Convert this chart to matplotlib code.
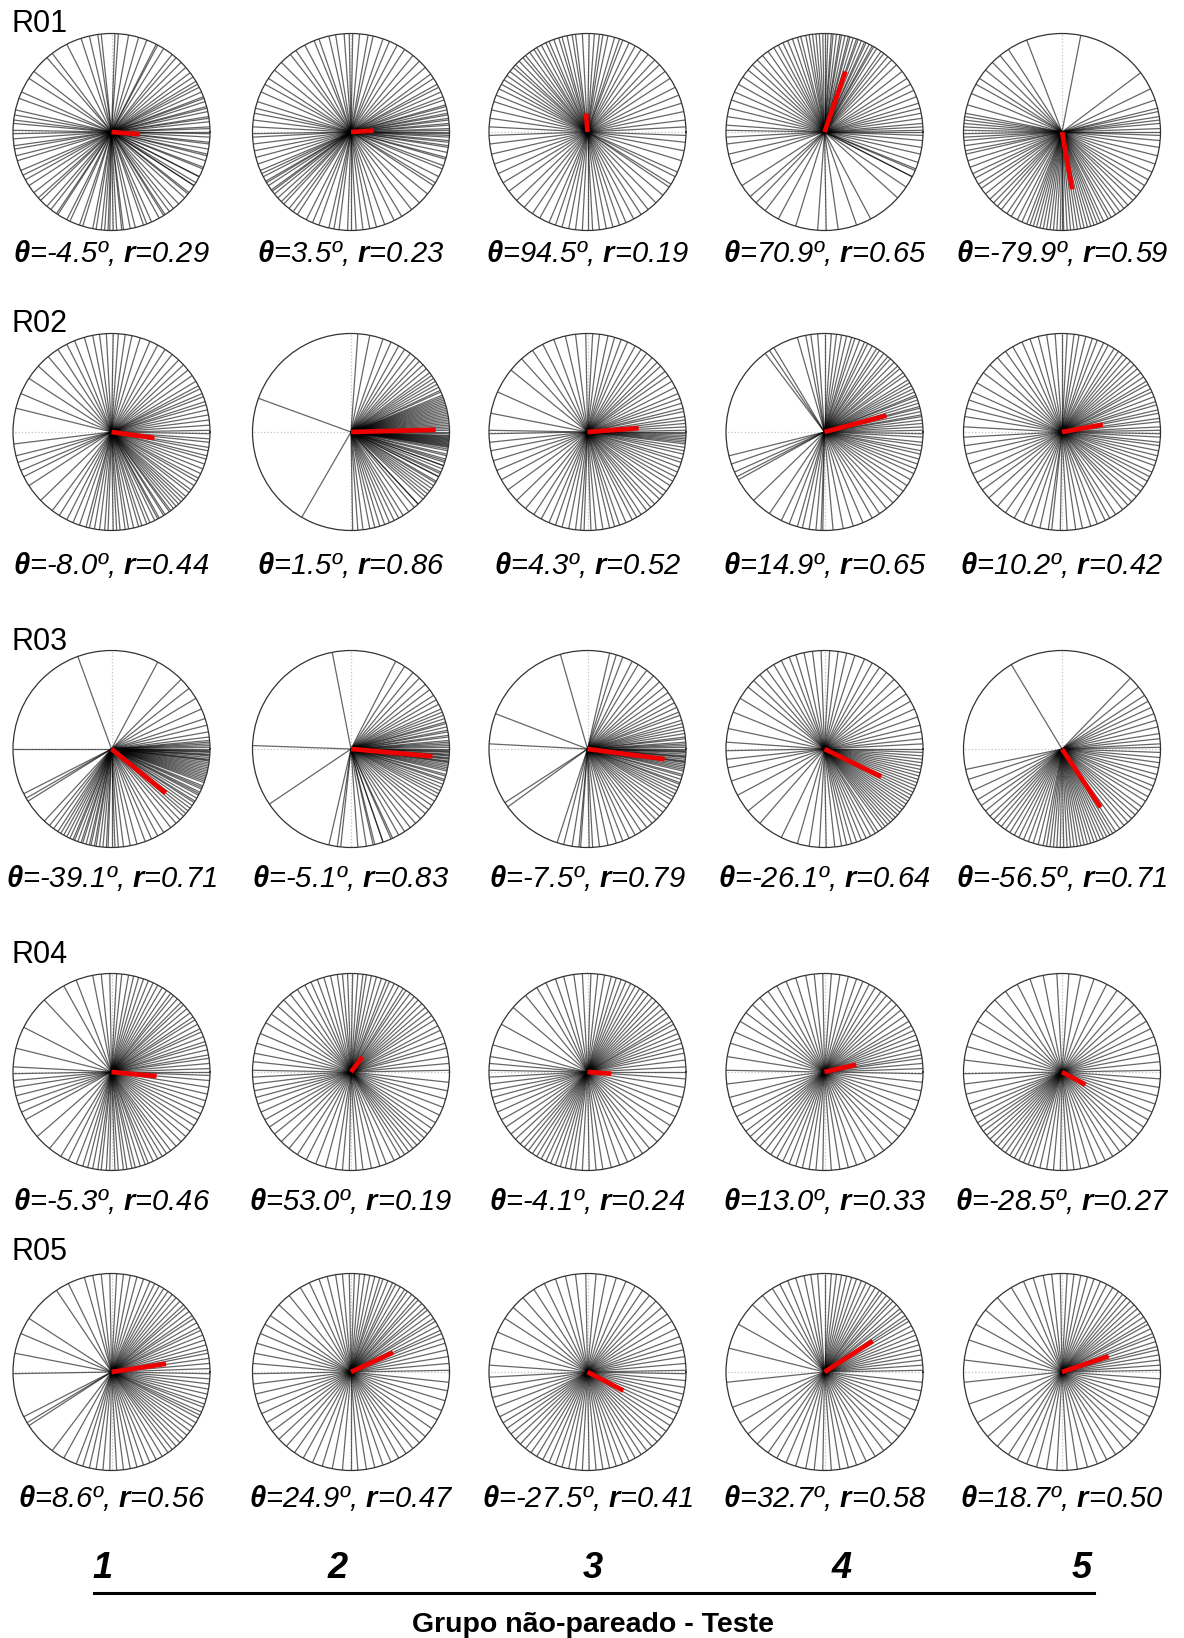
import numpy as np
import matplotlib
matplotlib.use("Agg")
import matplotlib.pyplot as plt
from matplotlib.lines import Line2D

plt.rcParams['font.family'] = ['Liberation Sans', 'DejaVu Sans']
plt.rcParams['mathtext.fontset'] = 'custom'
plt.rcParams['mathtext.bf'] = 'Liberation Sans:italic:bold'
plt.rcParams['mathtext.it'] = 'Liberation Sans:italic'
plt.rcParams['mathtext.rm'] = 'Liberation Sans:italic'

# ---------------- data ----------------
row_labels = ['R01', 'R02', 'R03', 'R04', 'R05']
col_labels = ['1', '2', '3', '4', '5']
xlabel = 'Grupo não-pareado - Teste'

mean_theta = [[-4.5, 3.5, 94.5, 70.9, -79.9],
              [-8.0, 1.5, 4.3, 14.9, 10.2],
              [-39.1, -5.1, -7.5, -26.1, -56.5],
              [-5.3, 53.0, -4.1, 13.0, -28.5],
              [8.6, 24.9, -27.5, 32.7, 18.7]]
mean_r = [[0.29, 0.23, 0.19, 0.65, 0.59],
          [0.44, 0.86, 0.52, 0.65, 0.42],
          [0.71, 0.83, 0.79, 0.64, 0.71],
          [0.46, 0.19, 0.24, 0.33, 0.27],
          [0.56, 0.47, 0.41, 0.58, 0.50]]

# individual directions (degrees, counter-clockwise from east)
R01_1 = [-38, -33, -31, -27, -22, -21, -17, -14, -13, -10, -7, -6, -3, -1, 0, 2, 3, 6, 8, 9, 12, 14, 15, 18,
         20, 21, 24, 27, 29, 31, 34, 37, 41, 45, 49, 52, 58, 62, 63, 69, 74, 80, 86, 88, 96, 98, 103, 108,
         117, 127, 131, 142, 147, 156, 160, 167, 170, 173, 175, 179, 181, 184, 188, 190, 194, 197, 203, 206,
         209, 213, 218, 222, 224, 229, 232, 236, 237, 243, 245, 251, 253, 259, 261, 264, 266, 268, 269, 271,
         273, 276, 277, 281, 284, 289, 291, 294, 299, 302, 303, 306, 309, 313, 318, 321, 327, 333]
R01_2 = [-31, -27, -22, -20, -16, -15, -12, -9, -8, -6, -5, -3, -2, -1, 0, 1, 2, 4, 5, 7, 8, 10, 11, 13, 15,
         16, 19, 21, 24, 27, 29, 33, 36, 41, 46, 51, 57, 62, 67, 71, 77, 80, 85, 89, 91, 94, 99, 103, 109,
         112, 118, 124, 128, 135, 141, 147, 151, 156, 162, 166, 169, 173, 177, 181, 183, 187, 191, 195, 199,
         203, 205, 207, 210, 211, 213, 216, 217, 219, 222, 225, 227, 231, 234, 237, 243, 247, 251, 257, 260,
         263, 268, 270, 273, 277, 281, 285, 290, 296, 301, 308, 314, 321, 327]
R01_3 = [-32, -24, -17, -11, -6, -2, 3, 7, 12, 17, 22, 27, 33, 38, 43, 47, 52, 57, 61, 65, 69, 71, 74, 78, 81,
         83, 86, 89, 93, 97, 99, 102, 105, 107, 110, 113, 115, 118, 121, 123, 126, 129, 131, 134, 137, 139,
         142, 145, 148, 151, 154, 158, 162, 167, 172, 177, 182, 187, 193, 199, 205, 211, 217, 224, 230, 236,
         241, 247, 251, 255, 259, 263, 267, 270, 273, 277, 281, 285, 289, 293, 298, 303, 308, 314, 320, 326,
         333]
R01_4 = [38, 43, 47, 50, 53, 55, 58, 60, 61, 63, 65, 66, 68, 70, 71, 73, 75, 76, 78, 80, 81, 83, 85, 86, 88,
         90, 91, 93, 95, 97, 99, 101, 104, 106, 109, 112, 115, 118, 121, 125, 129, 133, 137, 141, 146, 151,
         156, 161, -27, -22, -18, -13, -9, -5, -2, 0, 1, 3, 5, 8, 11, 14, 17, 21, 25, 29, 33,
         166, 171, 176, 179, 183, 187, 193, 199, 213, 221, 226, 233, 242, 253, 266, 271, 278, 289, 298, 318,
         326, 333, 337]
R01_5 = [0, 2, 5, 7, 9, 12, 14, 19, 26, 37, 79, 111, 123, 129, 135, 141, 147, 151, 157, 164, 169, 171, 173,
         175, 177, 179, 181, 183, 185, 188, 191, 193, 197, 201, 205, 208, 212, 215, 219, 223, 226, 229, 232,
         236, 239, 243, 246, 249, 251, 253, 255, 257, 259, 261, 263, 265, 267, 269, 270, 271, 273, 275, 277,
         279, 281, 283, 285, 287, 289, 291, 293, 295, 298, 300, 303, 306, 309, 312, 316, 319, 323, 327, 331,
         336, 341, 346, 351, 355, 358]
R02_1 = [-62, -57, -53, -49, -45, -41, -38, -36, -33, -30, -28, -25, -22, -19, -16, -14, -11, -9, -6, -4, -1,
         1, 4, 7, 10, 13, 16, 18, 21, 23, 26, 28, 31, 35, 39, 43, 47, 52, 57, 62, 67, 73, 78, 82, 86, 89, 93,
         97, 101, 106, 112, 117, 123, 130, 138, 147, 157, 166, 187, 194, 198, 203, 207, 213, 224, 233, 238,
         243, 247, 251, 255, 257, 260, 263, 266, 268, 271, 273, 275, 278, 280, 283, 286, 288, 291, 293, 296,
         299, 302, 306, 309, 313, 317]
R02_2 = [-47, -41, -37, -33, -30, -27, -25, -22, -20, -18, -16, -14, -13, -11, -10, -9, -8.5, -8, -7.5, -7,
         -6.5, -6, -5.5, -5, -4.5, -4, -3.5, -3, -2.5, -2, -1, 0, 1, 2, 3, 4, 5, 6, 7, 8, 9, 10, 11, 12, 13,
         14, 15, 16, 17, 18, 19, 20, 21, 22, 24, 25, 27, 29, 31, 33, 35, 37, 40, 43, 46, 49, 53, 57, 61, 66,
         71, 79, 86, 160, 240, 271, 274, 277, 281, 284, 287, 290, 293, 296, 299, 302, 306, 310, 313, 317, 321,
         325, 329, 333, 336, 340, 343]
R02_3 = [-92, -88, -85, -81, -77, -74, -71, -67, -63, -60, -57, -53, -50, -47, -43, -40, -37, -33, -30, -27,
         -24, -21, -18, -16, -13, -11, -9, -7, -6, -5, -4, -3, -2, -1, 0, 1, 3, 5, 7, 9, 12, 14, 17, 20, 23,
         27, 31, 35, 38, 42, 45, 49, 53, 57, 61, 66, 70, 74, 78, 83, 87, 91, 97, 103, 110, 117, 124, 132, 141,
         156, 169, 179, 181, 186, 191, 197, 203, 209, 216, 224, 231, 237, 242, 247, 251, 255, 259, 263, 266]
R02_4 = [-1, 1, 3, 5, 7, 9, 10, 12, 14, 15, 17, 19, 21, 22, 24, 26, 28, 30, 32, 35, 37, 40, 42, 45, 48, 50,
         53, 56, 58, 61, 64, 66, 69, 72, 74, 77, 80, 83, 86, 90, 94, 98, 101, 106, 121, 124, 127,
         -3, -6, -8, -11, -13, -16, -19, -22, -25, -29, -33, -37, -41, -46, -51, -56, -61, -67, -73, -79, -85,
         -91, 194, 199, 204, 207, 209, 224, 236, 244, 249, 254, 257, 261, 265, 268]
R02_5 = [-96, -91, -87, -82, -78, -73, -69, -64, -61, -57, -52, -48, -45, -41, -37, -34, -30, -27, -24, -20,
         -17, -14, -11, -8, -6, -3, -1, 1, 3, 6, 8, 11, 13, 16, 18, 21, 24, 26, 29, 31, 34, 37, 40, 43, 46, 49,
         52, 55, 58, 62, 65, 69, 72, 76, 80, 83, 87, 90, 94, 99, 104, 109, 114, 120, 125, 131, 137, 143, 150,
         156, 161, 166, 171, 177, 183, 188, 193, 199, 205, 211, 216, 222, 229, 235, 241, 247, 252, 257, 262]
R03_1 = [180, 207, 210, 212, 110, 62, 45, 38, 31, 24, 18, 14, 10, 7, 5, 4, 3, 2, 1, 0, -1, -1.5, -2, -3, -3.5,
         -4, -5, -6, -6.5, -7, -8, -9, -10, -11, -12, -13, -14, -15, -16, -17, -18, -19, -20, -22, -23, -24,
         -26, -27, -28, -30, -32, -33, -35, -37, -39, -41, -43, -46, -49, -53, -58, -62, -66, -70, -75, -79,
         -83, -86, -88, -90, -92, -93, -95, -97, -99, -100, -102, -103, -105, -107, -108, -110, -112, -113,
         -115, -117, -119, -121, -123, -126, -129, -133]
R03_2 = [101, 63, 57, 51, 46, 41, 37, 33, 30, 27, 24, 22, 20, 18, 16, 15, 13, 11, 10, 8, 7, 5, 4, 3, 2, 1, 0,
         -1, -1.5, -2, -3, -3.5, -4, -5, -5.5, -6, -7, -7.5, -8, -9, -10, -11, -12, -13, -15, -16, -18, -19,
         -21, -23, -25, -27, -29, -32, -35, -38, -41, -45, -49, -53, -57, -61, -66, -71, -76, -81, -86, -96,
         178, 214, 257, 262, 283, 289, 295]
R03_3 = [106, 77, 73, 69, 63, 59, 53, 48, 43, 39, 35, 31, 28, 25, 22, 20, 17, 15, 13, 11, 9, 7, 6, 4, 3, 2, 1,
         0, -1, -1.5, -2, -3, -4, -4.5, -5, -6, -7, -7.5, -8, -9, -10, -11, -12, -13, -15, -16, -18, -20, -21,
         -23, -25, -27, -29, -31, -34, -37, -40, -43, -46, -49, -53, -57, -61, -65, -69, -73, -78, -83, -89,
         -95, 159, 177, 213, 216, 252, 256, 261, 266, 273]
R03_4 = [-84, -80, -77, -74, -71, -68, -65, -62, -59, -57, -54, -52, -50, -48, -46, -44, -42, -40, -38, -36,
         -34, -32, -30, -28, -26, -24, -22, -20, -18, -16, -14, -12, -10, -8, -6, -4, -2, 0, 3, 6, 10, 14, 19,
         24, 29, 34, 40, 45, 51, 56, 61, 66, 72, 77, 82, 87, 92, 97, 102, 107, 111, 116, 121, 126, 131, 136,
         141, 149, 158, 168, 176, 181, 186, 191, 199, 208, 219, 229, 244, 254, 261, 267, 271]
R03_5 = [121, 46, 39, 33, 29, 25, 21, 17, 13, 9, 6, 3, 1, -2, -5, -8, -11, -15, -18, -22, -25, -29, -32, -36,
         -39, -42, -45, -48, -51, -54, -57, -59, -61, -63, -65, -67, -69, -71, -73, -75, -77, -79, -81, -83,
         -85, -87, -89, -91, -93, -95, -97, -99, -101, -104, -107, -110, -113, -116, -119, -122, -125, -128,
         -131, -134, -137, -141, -145, -149, -155, -162, -168]
R04_1 = [0, 2, 5, 8, 10, 13, 16, 18, 21, 24, 26, 29, 32, 34, 37, 40, 43, 45, 48, 51, 53, 56, 59, 62, 65, 68,
         71, 74, 77, 80, 84, 87, 91, 96, 101, 111, 119, 133, 153, 166, 177, 181, 185, 189, 194, 199, 204, 209,
         221, 231, 239, 244, 249, 253, 256, 259, 262, 264, 267, 269, 272, 274, 277, 279, 282, 284, 287, 290,
         292, 295, 298, 301, 304, 307, 311, 315, 319, 323, 327, 331, 335, 339, 343, 347, 351, 355, 358]
R04_2 = [1, 5, 9, 14, 17, 21, 25, 28, 32, 35, 38, 41, 44, 47, 50, 53, 56, 58, 61, 64, 67, 69, 72, 75, 78, 81,
         83, 86, 89, 92, 95, 98, 102, 106, 110, 114, 118, 123, 128, 133, 138, 144, 150, 157, 163, 169, 174,
         179, 183, 187, 191, 195, 199, 204, 209, 214, 219, 225, 231, 237, 243, 249, 255, 261, 265, 269, 273,
         277, 282, 287, 291, 296, 300, 303, 306, 309, 312, 315, 318, 321, 325, 329, 334, 339, 344, 349, 354]
R04_3 = [0, 3, 7, 11, 14, 17, 20, 23, 26, 29, 31, 34, 37, 40, 43, 46, 49, 52, 55, 58, 61, 64, 67, 70, 73, 76,
         80, 84, 88, 93, 98, 104, 109, 115, 121, 129, 139, 151, 164, 171, 175, 179, 183, 187, 191, 195, 199,
         204, 209, 214, 219, 223, 227, 230, 233, 236, 239, 242, 245, 248, 251, 254, 257, 260, 263, 267, 271,
         275, 279, 284, 289, 294, 299, 304, 309, 315, 321, 327, 333, 339, 345, 351, 356]
R04_4 = [-1, 2, 5, 8, 10, 13, 16, 19, 22, 25, 28, 31, 35, 39, 43, 47, 51, 55, 59, 63, 67, 71, 76, 81, 86, 91,
         96, 101, 107, 113, 119, 125, 131, 137, 143, 149, 156, 163, 171, 179, 187, 195, 201, 207, 212, 217,
         221, 225, 229, 233, 237, 241, 245, 249, 253, 257, 261, 265, 269, 274, 279, 284, 289, 295, 301, 307,
         313, 319, 325, 331, 337, 343, 349, 354]
R04_5 = [1, 6, 11, 16, 21, 26, 31, 37, 43, 49, 56, 63, 71, 79, 86, 93, 101, 109, 117, 125, 133, 141, 149, 157,
         165, 173, 181, 187, 193, 199, 203, 207, 211, 214, 217, 220, 223, 226, 229, 232, 235, 238, 241, 244,
         247, 250, 253, 257, 261, 265, 269, 273, 277, 281, 286, 291, 296, 301, 306, 311, 316, 321, 326, 331,
         336, 341, 346, 351, 356]
R05_1 = [-1, 2, 5, 8, 11, 13, 16, 19, 22, 25, 27, 30, 33, 35, 38, 41, 43, 46, 49, 52, 55, 58, 61, 64, 67, 71,
         75, 79, 83, 87, 91, 96, 101, 106, 116, 124, 147, 157, 169, 181, 207, 211, 213, 233, 241, 249, 253,
         257, 261, 265, 269, 273, 277, 281, 285, 289, 293, 297, 301, 305, 308, 311, 314, 317, 320, 323, 326,
         329, 332, 334, 336, 339, 341, 344, 347, 350, 353, 356]
R05_2 = [1, 5, 9, 13, 17, 20, 23, 25, 28, 31, 33, 36, 39, 41, 44, 47, 49, 52, 55, 57, 60, 63, 65, 68, 71, 73,
         76, 79, 82, 85, 88, 91, 95, 99, 104, 109, 115, 121, 129, 137, 145, 151, 157, 163, 169, 175, 181, 187,
         193, 199, 205, 211, 217, 223, 229, 235, 241, 247, 253, 259, 265, 270, 274, 279, 284, 289, 294, 299,
         304, 309, 314, 319, 325, 331, 337, 343, 349, 354]
R05_3 = [1, 5, 9, 13, 17, 21, 26, 31, 36, 41, 46, 51, 56, 61, 67, 73, 79, 85, 91, 97, 103, 109, 116, 123, 131,
         139, 147, 156, 166, 176, 183, 189, 195, 201, 207, 211, 215, 219, 223, 227, 231, 235, 239, 243, 247,
         251, 255, 259, 263, 267, 271, 275, 279, 283, 287, 291, 295, 299, 303, 307, 311, 315, 319, 323, 327,
         331, 335, 339, 343, 347, 351, 355, 359]
R05_4 = [1, 4, 7, 10, 13, 16, 19, 22, 25, 28, 31, 33, 35, 38, 40, 43, 46, 48, 51, 54, 56, 59, 62, 65, 68, 71,
         74, 77, 80, 83, 86, 90, 94, 98, 102, 107, 112, 117, 122, 129, 137, 151, 166, 186, 201, 211, 219, 227,
         235, 241, 247, 253, 259, 264, 269, 274, 279, 284, 289, 295, 301, 307, 313, 319, 325, 331, 337, 343,
         349, 354]
R05_5 = [1, 4, 7, 10, 13, 15, 18, 21, 23, 26, 29, 31, 34, 37, 40, 43, 46, 49, 52, 55, 59, 63, 67, 71, 75, 79,
         83, 87, 91, 96, 101, 107, 113, 121, 131, 141, 151, 161, 173, 186, 199, 211, 221, 229, 237, 243, 249,
         255, 261, 267, 273, 279, 285, 291, 297, 303, 309, 315, 321, 327, 333, 339, 345, 351, 356]

directions = [[R01_1, R01_2, R01_3, R01_4, R01_5],
              [R02_1, R02_2, R02_3, R02_4, R02_5],
              [R03_1, R03_2, R03_3, R03_4, R03_5],
              [R04_1, R04_2, R04_3, R04_4, R04_5],
              [R05_1, R05_2, R05_3, R05_4, R05_5]]

# ---------------- layout (pixels) ----------------
W, H = 1184, 1638
col_x = [111.5, 351, 587.5, 824.5, 1062]
row_y = [132, 432, 749, 1072, 1372]
text_y = [253, 565, 878, 1201, 1498]
label_y = [24, 324, 642, 955, 1252]
RAD = 98.5

fig = plt.figure(figsize=(W / 100, H / 100), dpi=100)

for i in range(5):
    fig.text(11 / W, 1 - label_y[i] / H, row_labels[i], fontsize=22, ha='left', va='center')
    for j in range(5):
        cx, cy = col_x[j], row_y[i]
        ax = fig.add_axes([(cx - RAD) / W, 1 - (cy + RAD) / H, 2 * RAD / W, 2 * RAD / H],
                          projection='polar')
        th = np.deg2rad(np.array(directions[i][j], dtype=float))
        ax.vlines(th, 0, 1, colors='black', alpha=0.6, lw=0.9)
        mt = np.deg2rad(mean_theta[i][j])
        ax.plot([mt, mt], [0, mean_r[i][j]], color='#ee0000', lw=3.4, solid_capstyle='butt', zorder=5)
        ax.set_ylim(0, 1)
        ax.set_rticks([])
        ax.set_thetagrids([0, 90, 180, 270], labels=['', '', '', ''])
        ax.grid(True, color='#c4c4c4', ls=':', lw=0.9)
        ax.spines['polar'].set_color('#333333')
        ax.spines['polar'].set_linewidth(0.9)
        s = (r'$\mathbf{θ}$' + '={:.1f}º, '.format(mean_theta[i][j]) + r'$\mathbf{r}$' +
             '={:.2f}'.format(mean_r[i][j]))
        fig.text(cx / W, 1 - text_y[i] / H, s, fontsize=21, style='italic', ha='center', va='center')

num_x = [102, 338, 593, 842, 1082]
for j in range(5):
    fig.text(num_x[j] / W, 1 - 1569 / H, col_labels[j], fontsize=26, weight='bold', style='italic',
             ha='center', va='center')
fig.add_artist(Line2D([94 / W, 1094 / W], [1 - 1593 / H, 1 - 1593 / H], color='black', lw=2.2))
fig.text(593 / W, 1 - 1625 / H, xlabel, fontsize=20.5, weight='bold', ha='center', va='center')

fig.savefig('out.png', dpi=100, facecolor='white')
